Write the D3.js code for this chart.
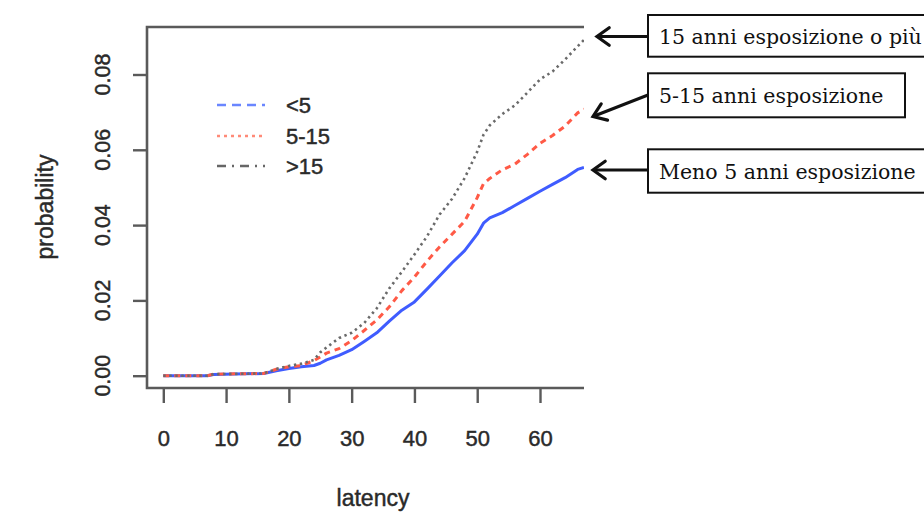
<!DOCTYPE html>
<html>
<head>
<meta charset="utf-8">
<script src="https://cdn.jsdelivr.net/npm/d3@7"></script>
<style>
  html, body { margin: 0; padding: 0; background: #fff; }
  svg { display: block; }
</style>
</head>
<body>
<svg id="chart" width="924" height="512"></svg>
<script>
// ---- data ----
const latency = [0, 7, 8, 16, 18, 20, 22, 24, 25, 26, 28, 30, 32, 34, 36, 38, 40, 42, 44, 46, 48, 50, 51, 52, 54, 56, 58, 60, 62, 64, 66, 67];
const probLess5 = [0, 0, 0.0003, 0.0006, 0.0013, 0.0019, 0.0024, 0.0027, 0.0033, 0.0042, 0.0054, 0.0069, 0.0091, 0.0114, 0.0145, 0.0174, 0.0196, 0.0230, 0.0265, 0.0300, 0.0332, 0.0376, 0.0405, 0.0419, 0.0433, 0.0452, 0.0471, 0.0490, 0.0508, 0.0526, 0.0548, 0.0553];
const prob5to15 = [0, 0, 0.0004, 0.0006, 0.0017, 0.0024, 0.0027, 0.0040, 0.0050, 0.0060, 0.0072, 0.0093, 0.0120, 0.0148, 0.0183, 0.0226, 0.0262, 0.0304, 0.0342, 0.0376, 0.0410, 0.0473, 0.0510, 0.0524, 0.0547, 0.0562, 0.0588, 0.0617, 0.0638, 0.0663, 0.0698, 0.0708];
const probMore15 = [0, 0, 0.0004, 0.0006, 0.0018, 0.0026, 0.0032, 0.0042, 0.0062, 0.0075, 0.0100, 0.0114, 0.0140, 0.0179, 0.0232, 0.0276, 0.0322, 0.0370, 0.0428, 0.0470, 0.0525, 0.0595, 0.0640, 0.0665, 0.0695, 0.0718, 0.0752, 0.0787, 0.0808, 0.0840, 0.0875, 0.0892];
const legendLabels = ["<5", "5-15", ">15"];
const xTicks = [0, 10, 20, 30, 40, 50, 60];
const yTicks = [0, 0.02, 0.04, 0.06, 0.08];
const annotations = ["15 anni esposizione o più", "5-15 anni esposizione", "Meno 5 anni esposizione"];

// ---- layout ----
const svg = d3.select("#chart");
const x = d3.scaleLinear().domain([0, 60]).range([163.3, 540]);
const y = d3.scaleLinear().domain([0, 0.08]).range([375.7, 74.5]);
const frame = {left: 147, top: 27, bottom: 388, right: 583};
const axisCol = "#5a5a5a";
const textCol = "#2a2a2a";
const sansFont = "'Liberation Sans', Arial, sans-serif";

function heavy(sel) {
  return sel.attr("fill", textCol).attr("stroke", textCol).attr("stroke-width", 0.45);
}

svg.append("defs").append("clipPath").attr("id", "clip")
  .append("rect").attr("x", 0).attr("y", 0).attr("width", frame.right + 1).attr("height", 512);

const g = svg.append("g").attr("clip-path", "url(#clip)");

// frame (left, top, bottom)
g.append("path")
  .attr("d", `M${frame.right + 20},${frame.top}H${frame.left}V${frame.bottom}H${frame.right + 20}`)
  .attr("fill", "none").attr("stroke", axisCol).attr("stroke-width", 2.6);

// x axis ticks
const xAxis = d3.axisBottom(x).tickValues(xTicks).tickSize(15).tickPadding(27).tickSizeOuter(0);
const xg = g.append("g").attr("transform", `translate(0,${frame.bottom})`).call(xAxis);
xg.select(".domain").remove();
xg.selectAll(".tick line").attr("stroke", axisCol).attr("stroke-width", 2.4);
heavy(xg.selectAll(".tick text").attr("font-family", sansFont).attr("font-size", 22));

// y axis ticks
const yAxis = d3.axisLeft(y).tickValues(yTicks).tickSize(14).tickFormat("");
const yg = g.append("g").attr("transform", `translate(${frame.left},0)`).call(yAxis);
yg.select(".domain").remove();
yg.selectAll(".tick line").attr("stroke", axisCol).attr("stroke-width", 2.4);
heavy(g.selectAll(".ylab").data(yTicks).enter().append("text")
  .attr("transform", d => `translate(103,${y(d)}) rotate(-90)`)
  .attr("text-anchor", "middle").attr("dominant-baseline", "central")
  .attr("font-family", sansFont).attr("font-size", 21.5)
  .text(d3.format(".2f")));

// axis titles
heavy(g.append("text").attr("transform", "translate(45,207) rotate(-90)")
  .attr("text-anchor", "middle").attr("dominant-baseline", "central")
  .attr("font-family", sansFont).attr("font-size", 23).text("probability"));
heavy(g.append("text").attr("x", 373).attr("y", 498)
  .attr("text-anchor", "middle").attr("dominant-baseline", "central")
  .attr("font-family", sansFont).attr("font-size", 23).text("latency"));

// series
const series = [
  {vals: probLess5, color: "#3f5cff", dash: null, lDash: "9,6", width: 3, lColor: "#6a86ff"},
  {vals: prob5to15, color: "#ff5a46", dash: "6,5", lDash: "3,4", width: 3, lColor: "#ff8a78"},
  {vals: probMore15, color: "#6a6a6a", dash: "2.4,3.6", lDash: "9,6,2,6", width: 2.6, lColor: "#666"}
];
const line = d3.line().x((d, i) => x(latency[i])).y(d => y(d));
series.forEach(s => {
  g.append("path").datum(s.vals).attr("d", line)
    .attr("fill", "none").attr("stroke", s.color).attr("stroke-width", s.width)
    .attr("stroke-dasharray", s.dash).attr("stroke-linejoin", "round");
});

// legend
const legendY = [105, 136, 166];
legendLabels.forEach((lab, i) => {
  g.append("line").attr("x1", 217).attr("x2", 265).attr("y1", legendY[i]).attr("y2", legendY[i])
    .attr("stroke", series[i].lColor).attr("stroke-width", 2.6).attr("stroke-dasharray", series[i].lDash);
  heavy(g.append("text").attr("x", 286).attr("y", legendY[i]).attr("dominant-baseline", "central")
    .attr("font-family", sansFont).attr("font-size", 22).text(lab));
});

// annotations (boxes + arrows)
const serifFont = "'DejaVu Serif', 'Liberation Serif', serif";
const boxes = [
  {x0: 648, y0: 15, y1: 56.7, x1: 940},
  {x0: 648, y0: 73.3, y1: 117.3, x1: 905},
  {x0: 648, y0: 149.3, y1: 192.7, x1: 940}
];
const arrows = [
  {from: [648, 36.5], to: [597, 36.5]},
  {from: [648, 95], to: [593, 116.5]},
  {from: [648, 170], to: [593, 170]}
];
const ann = svg.append("g");
boxes.forEach((b, i) => {
  ann.append("rect").attr("x", b.x0).attr("y", b.y0).attr("width", b.x1 - b.x0).attr("height", b.y1 - b.y0)
    .attr("fill", "#fff").attr("stroke", "#111").attr("stroke-width", 2);
  ann.append("text").attr("x", 659).attr("y", (b.y0 + b.y1) / 2 + 1).attr("dominant-baseline", "central")
    .attr("font-family", serifFont).attr("font-size", 20.5).attr("fill", "#111").text(annotations[i]);
});
arrows.forEach(a => {
  const [fx, fy] = a.from, [tx, ty] = a.to;
  const ang = Math.atan2(fy - ty, fx - tx);
  const L = 15, spread = 0.62;
  ann.append("line").attr("x1", fx).attr("y1", fy).attr("x2", tx + 2 * Math.cos(ang)).attr("y2", ty + 2 * Math.sin(ang))
    .attr("stroke", "#111").attr("stroke-width", 3);
  const p1 = [tx + L * Math.cos(ang + spread), ty + L * Math.sin(ang + spread)];
  const p2 = [tx + L * Math.cos(ang - spread), ty + L * Math.sin(ang - spread)];
  ann.append("path").attr("d", `M${p1[0]},${p1[1]}L${tx},${ty}L${p2[0]},${p2[1]}`)
    .attr("fill", "none").attr("stroke", "#111").attr("stroke-width", 3.2)
    .attr("stroke-linejoin", "miter").attr("stroke-linecap", "round");
});
</script>
</body>
</html>
